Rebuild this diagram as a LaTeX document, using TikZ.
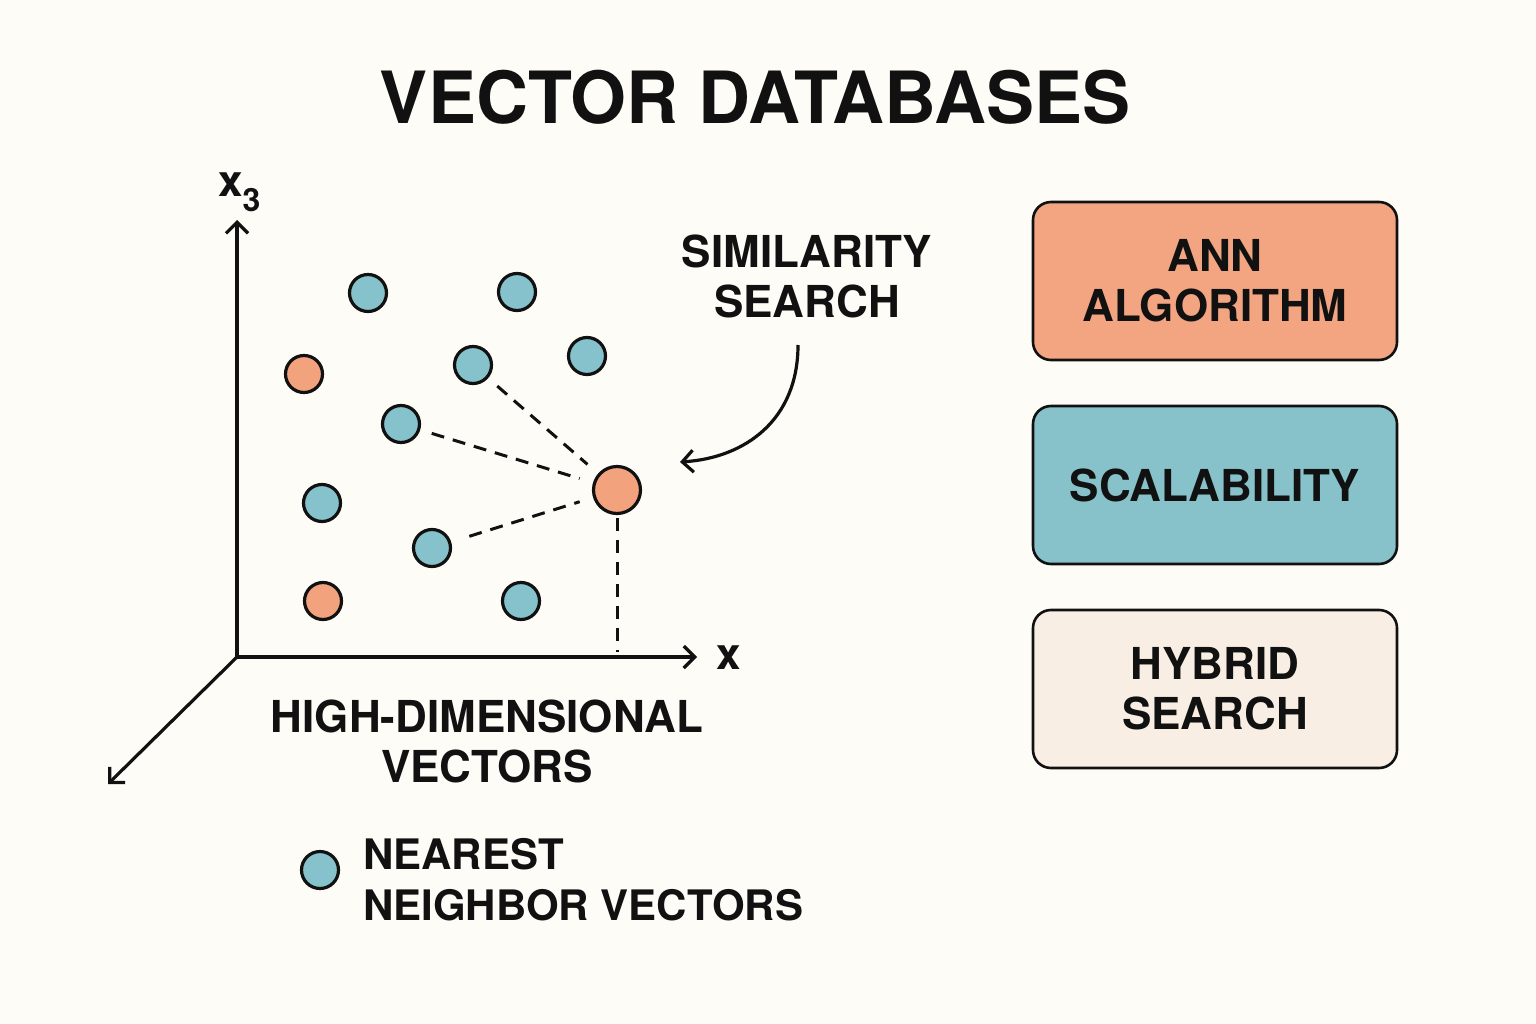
\documentclass[tikz,border=0pt]{standalone}
\usepackage{fontspec}
\setmainfont{TeX Gyre Heros}
\usetikzlibrary{arrows.meta}
\definecolor{bg}{HTML}{FDFCF7}
\definecolor{ink}{HTML}{111111}
\definecolor{vteal}{HTML}{86C2CB}
\definecolor{vorange}{HTML}{F3A27E}
\definecolor{annfill}{HTML}{F3A582}
\definecolor{scalfill}{HTML}{87C2CA}
\definecolor{hybfill}{HTML}{F8EEE4}
\begin{document}
\begin{tikzpicture}[x=1pt,y=-1pt,
  tip/.tip={Straight Barb[length=11pt,width=22pt]},
  axis/.style={draw=ink,line width=3.2pt,-tip},
  vec/.style={circle,draw=ink,line width=3.2pt,fill=vteal,minimum size=37pt,inner sep=0pt},
  query/.style={vec,fill=vorange,minimum size=47pt},
  guide/.style={draw=ink,line width=3pt,dash pattern=on 13pt off 9pt},
  lbl/.style={font=\fontsize{44}{50}\selectfont\bfseries,align=center,text=ink,inner sep=0pt},
  box/.style={lbl,draw=ink,line width=2.6pt,rounded corners=18pt,minimum width=364pt,minimum height=158pt}]
\useasboundingbox (0,0) rectangle (1536,1024);
\fill[bg] (0,0) rectangle (1536,1024);

% title
\node[text=ink,font=\fontsize{72}{72}\selectfont\bfseries] (title) at (755,97) {VECTOR DATABASES};

% axes
\coordinate (O) at (237,657);
\coordinate (ztip) at (237,220);
\coordinate (xtip) at (697,657);
\coordinate (ytip) at (108,784);
\draw[axis] (O) -- (ztip);
\draw[axis] (O) -- (xtip);
\draw[axis] (O) -- (ytip);
\node[lbl,anchor=base west] (zlab) at (218,197) {x\raisebox{-15pt}{\fontsize{32}{32}\selectfont 3}};
\node[lbl] (xlab) at (729,658) {x};

% vectors
\node[vec] (v1) at (368,293) {};
\node[vec] (v2) at (517,292) {};
\node[vec] (v3) at (473,365) {};
\node[vec] (v4) at (587,356) {};
\node[vec] (v5) at (401,424) {};
\node[vec] (v6) at (322,503) {};
\node[vec] (v7) at (432,548) {};
\node[vec] (v8) at (521,601) {};
\node[vec,fill=vorange] (o1) at (304,374) {};
\node[vec,fill=vorange] (o2) at (323,601) {};
\node[query] (q) at (617,490) {};

% neighbour links and projection
\draw[guide,shorten <=12pt,shorten >=14pt] (v3) -- (q);
\draw[guide,shorten <=12pt,shorten >=14pt] (v5) -- (q);
\draw[guide,shorten <=19pt,shorten >=14pt] (v7) -- (q);
\coordinate (qx) at (617,652);
\draw[guide,shorten <=3pt] (q) -- (qx);

% similarity search annotation
\node[lbl] (sim) at (807,276) {SIMILARITY\\SEARCH};
\coordinate (cs) at (798,345);
\coordinate (ce) at (680,462);
\draw[draw=ink,line width=3.2pt,-tip] (cs) .. controls (798,420) and (745,458) .. (ce);

% axis caption
\node[lbl] (hd) at (487,741) {HIGH-DIMENSIONAL\\VECTORS};

% legend
\node[vec] (leg) at (320,870) {};
\node[lbl,font=\fontsize{42}{51}\selectfont\bfseries,align=left,anchor=west] (legtxt) at (363,880) {NEAREST\\NEIGHBOR VECTORS};

% feature boxes
\node[box,fill=annfill] (ann) at (1215,281) {ANN\\ALGORITHM};
\node[box,fill=scalfill] (scal) at (1215,485) {SCALABILITY};
\node[box,fill=hybfill] (hyb) at (1215,689) {HYBRID\\SEARCH};
\end{tikzpicture}
\end{document}
